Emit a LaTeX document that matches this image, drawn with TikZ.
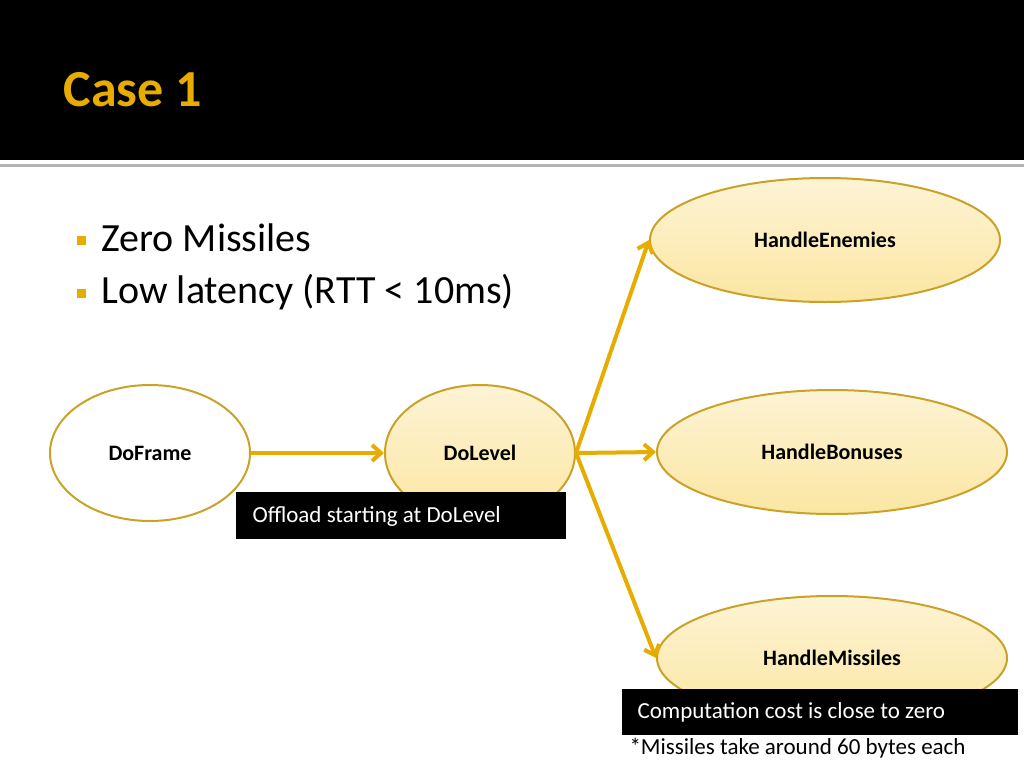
\documentclass[tikz,border=0pt]{standalone}
\usepackage{fontspec}
\setmainfont{Carlito}
\usetikzlibrary{shapes.geometric,arrows.meta}
\definecolor{gold}{HTML}{E8AC00}
\definecolor{edge}{HTML}{C9A227}
\definecolor{pale}{HTML}{FBE6A2}
\tikzset{
 ell/.style={ellipse,draw=edge,line width=2pt,top color=pale!45,bottom color=pale,font=\fontsize{22}{26}\selectfont\bfseries},
 arr/.style={draw=gold,line width=4pt,-{Straight Barb[length=9pt,width=16pt]}},
 blk/.style={fill=black,text=white,font=\fontsize{23}{27}\selectfont,inner sep=0pt,anchor=north west},
 bul/.style={fill=gold,minimum size=9pt,inner sep=0pt},
 btxt/.style={font=\fontsize{40}{48}\selectfont,anchor=west}
}
\begin{document}
\begin{tikzpicture}[x=1pt,y=-1pt]
\useasboundingbox (0,0) rectangle (1024,768);
\fill[black] (0,0) rectangle (1024,160);
\fill[gray!60] (0,164) rectangle (1024,167);
\node[anchor=west,text=gold,font=\fontsize{52}{60}\selectfont\bfseries] (title) at (60,90) {Case 1};
\node[bul] (b1) at (81,240) {};
\node[btxt] (t1) at (98,238) {Zero Missiles};
\node[bul] (b2) at (81,293) {};
\node[btxt] (t2) at (98,292) {Low latency (RTT < 10ms)};
\node[ell,minimum width=350pt,minimum height=124pt] (he) at (825,240) {HandleEnemies};
\node[ellipse,draw=edge,line width=2pt,fill=white,minimum width=200pt,minimum height=136pt,font=\fontsize{22}{26}\selectfont\bfseries] (df) at (150,453) {DoFrame};
\node[ell,minimum width=190pt,minimum height=136pt] (dl) at (480,453) {DoLevel};
\node[ell,minimum width=350pt,minimum height=124pt] (hb) at (832,452) {HandleBonuses};
\node[ell,minimum width=350pt,minimum height=124pt] (hm) at (832,658) {HandleMissiles};
\draw[arr] (df.east) -- (dl.west);
\draw[arr] (dl.east) -- (he.west);
\draw[arr] (dl.east) -- (hb.west);
\draw[arr] (dl.east) -- (hm.west);
\fill[black] (236,492) rectangle (566,539);
\node[anchor=west,text=white,font=\fontsize{23}{27}\selectfont] (l1) at (249,516) {Offload starting at DoLevel};
\fill[black] (622,689) rectangle (1018,735);
\node[anchor=west,text=white,font=\fontsize{23}{27}\selectfont] (l2) at (634,712) {Computation cost is close to zero};
\node[anchor=west,font=\fontsize{23}{27}\selectfont] (l3) at (626,748) {*Missiles take around 60 bytes each};
\end{tikzpicture}
\end{document}
